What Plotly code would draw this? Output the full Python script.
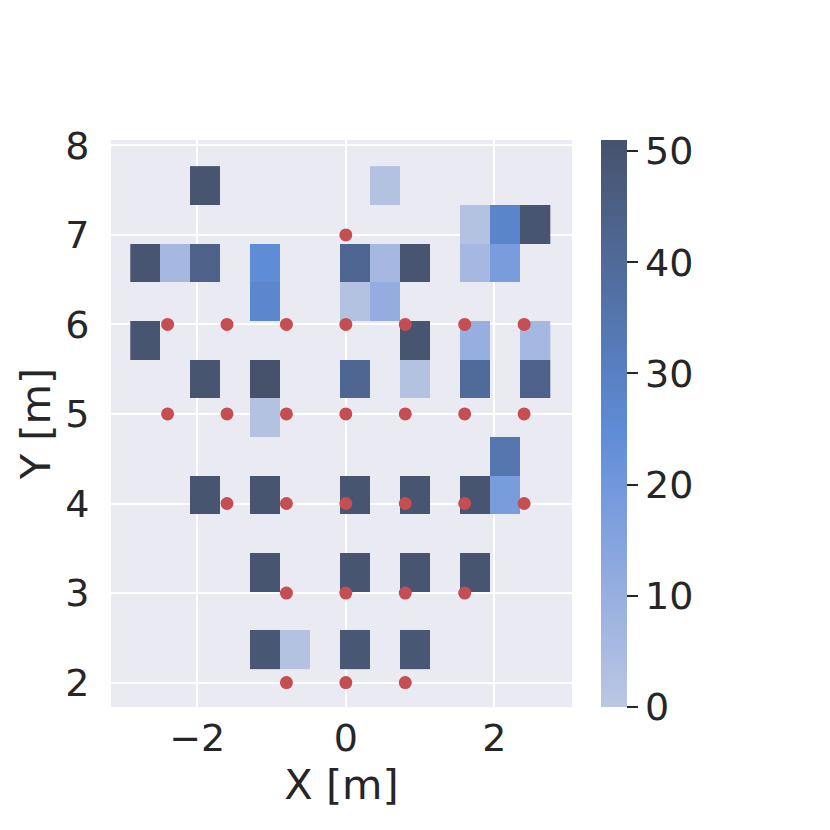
import math
import plotly.graph_objects as go

# ---------------- data ----------------
# histogram bin centres (m)
x_centers = [-2.700, -2.296, -1.893, -1.489, -1.085, -0.682, -0.278,
             0.126, 0.529, 0.933, 1.337, 1.740, 2.144, 2.547]
y_centers = [2.368, 2.800, 3.232, 3.664, 4.096, 4.528, 4.960,
             5.392, 5.824, 6.256, 6.688, 7.120, 7.552]

N = None
# counts per bin, rows bottom (y=2.37) -> top (y=7.55), columns left -> right
counts = [
    [N, N, N, N, 49, 2, N, 49, N, 49, N, N, N, N],
    [N, N, N, N, N, N, N, N, N, N, N, N, N, N],
    [N, N, N, N, 50, N, N, 50, N, 50, N, 50, N, N],
    [N, N, N, N, N, N, N, N, N, N, N, N, N, N],
    [N, N, 50, N, 50, N, N, 50, N, 50, N, 50, 18, N],
    [N, N, N, N, N, N, N, N, N, N, N, N, 35, N],
    [N, N, N, N, 2, N, N, N, N, N, N, N, N, N],
    [N, N, 50, N, 51, N, N, 42, N, 2, N, 40, N, 44],
    [50, N, N, N, N, N, N, N, N, 50, N, 10, N, 6],
    [N, N, N, N, 27, N, N, 2, 11, N, N, N, N, N],
    [50, 6, 44, N, 25, N, N, 42, 6, 50, N, 6, 18, N],
    [N, N, N, N, N, N, N, N, N, N, N, 2, 28, 50],
    [N, N, 50, N, N, N, N, N, 2, N, N, N, N, N],
]

# sensor positions (m)
sensor_x = [0.0,
            -2.4, -1.6, -0.8, 0.0, 0.8, 1.6, 2.4,
            -2.4, -1.6, -0.8, 0.0, 0.8, 1.6, 2.4,
            -1.6, -0.8, 0.0, 0.8, 1.6, 2.4,
            -0.8, 0.0, 0.8, 1.6,
            -0.8, 0.0, 0.8]
sensor_y = [7.0,
            6.0, 6.0, 6.0, 6.0, 6.0, 6.0, 6.0,
            5.0, 5.0, 5.0, 5.0, 5.0, 5.0, 5.0,
            4.0, 4.0, 4.0, 4.0, 4.0, 4.0,
            3.0, 3.0, 3.0, 3.0,
            2.0, 2.0, 2.0]

cbar_ticks = [0, 10, 20, 30, 40, 50]
x_ticks = [-2, 0, 2]
x_ticktext = ["\u22122", "0", "2"]
y_ticks = [2, 3, 4, 5, 6, 7, 8]

# ---------------- seaborn-like colormap (husl ramp of #4c72b0) ----------------
M = [[3.2406, -1.5372, -0.4986], [-0.9689, 1.8758, 0.0415], [0.0557, -0.2040, 1.0570]]
M_INV = [[0.4124, 0.3576, 0.1805], [0.2126, 0.7152, 0.0722], [0.0193, 0.1192, 0.9505]]
REF_Y, REF_U, REF_V, LAB_E, LAB_K = 1.0, 0.19784, 0.46834, 0.008856, 903.3


def max_chroma(L, H):
    hrad = math.radians(H)
    sinH, cosH = math.sin(hrad), math.cos(hrad)
    sub1 = ((L + 16.0) ** 3.0) / 1560896.0
    sub2 = sub1 if sub1 > 0.008856 else (L / 903.3)
    result = float("inf")
    for m1, m2, m3 in M:
        top = (0.99915 * m1 + 1.05122 * m2 + 1.14460 * m3) * sub2
        rbottom = 0.86330 * m3 - 0.17266 * m2
        lbottom = 0.12949 * m3 - 0.38848 * m1
        bottom = (rbottom * sinH + lbottom * cosH) * sub2
        for t in (0.0, 1.0):
            C = L * (top - 1.05122 * t) / (bottom + 0.17266 * sinH * t)
            if 0.0 < C < result:
                result = C
    return result


def to_linear(c):
    return ((c + 0.055) / 1.055) ** 2.4 if c > 0.04045 else c / 12.92


def from_linear(c):
    return 12.92 * c if c <= 0.0031308 else 1.055 * c ** (1 / 2.4) - 0.055


def f(t):
    return 116 * t ** (1 / 3) - 16 if t > LAB_E else LAB_K * t


def f_inv(t):
    return REF_Y * ((t + 16) / 116) ** 3 if t > 8 else REF_Y * t / LAB_K


def rgb_to_husl(r, g, b):
    rl = [to_linear(c) for c in (r, g, b)]
    X, Y, Z = [sum(M_INV[i][k] * rl[k] for k in range(3)) for i in range(3)]
    d = X + 15 * Y + 3 * Z
    varU, varV = 4 * X / d, 9 * Y / d
    L = f(Y / REF_Y)
    U, V = 13 * L * (varU - REF_U), 13 * L * (varV - REF_V)
    C = math.hypot(U, V)
    H = math.degrees(math.atan2(V, U)) % 360
    S = C / max_chroma(L, H) * 100
    return H, S, L


def husl_to_rgb(H, S, L):
    C = max_chroma(L, H) / 100 * S
    U = math.cos(math.radians(H)) * C
    V = math.sin(math.radians(H)) * C
    Y = f_inv(L) * REF_Y
    varU = U / (13 * L) + REF_U
    varV = V / (13 * L) + REF_V
    X = -(9 * Y * varU) / ((varU - 4) * varV - varU * varV)
    Z = (9 * Y - 15 * varV * Y - varV * X) / (3 * varV)
    xyz = [X, Y, Z]
    rgb = [from_linear(sum(M[i][k] * xyz[k] for k in range(3))) for i in range(3)]
    return [min(1.0, max(0.0, c)) for c in rgb]


h0, s0, _ = rgb_to_husl(0x4c / 255, 0x72 / 255, 0xb0 / 255)
n = 256
nx = int(1.15 * n)
xx = [-1 + 2 * k / (nx - 1) for k in range(nx)][:n]
ramp = []
for k in range(n):
    L = 35 + 45 * k / (n - 1)
    ramp.append(husl_to_rgb(h0, s0 * math.cos(xx[k]), L))
ramp = ramp[::-1]
colorscale = [[k / (n - 1), "rgb(%d,%d,%d)" % tuple(round(c * 255) for c in col)]
              for k, col in enumerate(ramp)]

# ---------------- figure ----------------
fig = go.Figure()
fig.add_trace(go.Heatmap(
    x=x_centers, y=y_centers, z=counts,
    colorscale=colorscale, zmin=0, zmax=51,
    hoverongaps=False,
    colorbar=dict(
        x=1.0635, xanchor="left", xpad=0, ypad=0,
        y=0.5, yanchor="middle", len=1, lenmode="fraction",
        thickness=26, outlinewidth=0,
        tickvals=cbar_ticks, ticks="outside", ticklen=11, tickwidth=1.5,
        tickcolor="#262626",
        tickfont=dict(family="DejaVu Sans", size=38, color="#262626"),
    ),
))
fig.add_trace(go.Scatter(
    x=sensor_x, y=sensor_y, mode="markers",
    marker=dict(color="#c44e52", size=13, line=dict(width=0)),
    showlegend=False,
))

fig.update_layout(
    width=830, height=830,
    margin=dict(l=103, r=266, t=132, b=131, autoexpand=False),
    paper_bgcolor="white", plot_bgcolor="#EAEAF2",
    font=dict(family="DejaVu Sans", size=38, color="#262626"),
    showlegend=False,
)
fig.update_xaxes(
    range=[-3.162, 3.045], tickvals=x_ticks, ticktext=x_ticktext,
    showgrid=True, gridcolor="white", gridwidth=2,
    zeroline=False, showline=False, automargin=False,
    ticks="outside", ticklen=0, tickcolor="rgba(0,0,0,0)",
    ticklabelstandoff=-3,
    tickfont=dict(size=38),
    title=dict(text="X [m]", font=dict(size=41.5), standoff=1),
)
fig.update_yaxes(
    range=[1.727, 8.06], tickvals=y_ticks,
    showgrid=True, gridcolor="white", gridwidth=2,
    zeroline=False, showline=False, automargin=False,
    ticks="outside", ticklen=13, tickcolor="rgba(0,0,0,0)",
    tickfont=dict(size=38),
    title=dict(text="Y [m]", font=dict(size=41.5), standoff=1),
)

fig.write_html("out.html")
